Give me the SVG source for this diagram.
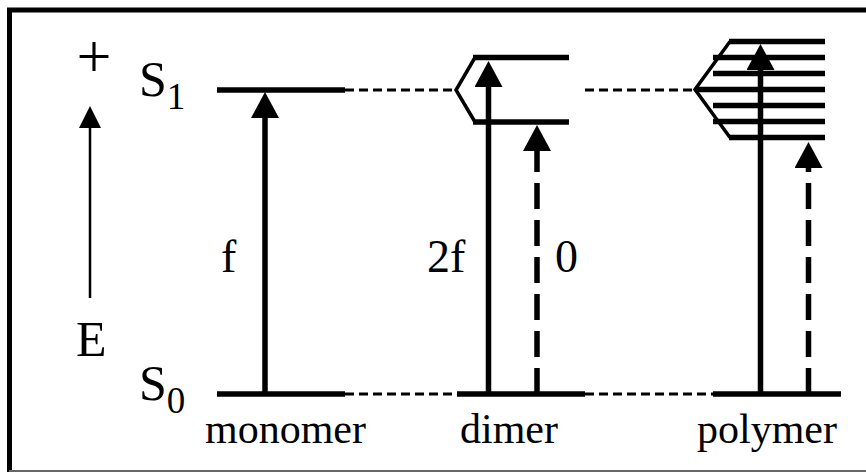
<svg xmlns="http://www.w3.org/2000/svg" width="866" height="472" viewBox="0 0 866 472" font-family="'Liberation Serif', 'Times New Roman', 'DejaVu Serif', serif">
<defs>
<style>
text{font-family:'Liberation Serif','Times New Roman','DejaVu Serif',serif;fill:#000}
.lvl{stroke:#000;stroke-width:5.5;fill:none}
.conn{stroke:#000;stroke-width:3;stroke-dasharray:9 5;fill:none}
.chev{stroke:#000;stroke-width:3.5;fill:none;stroke-linejoin:miter}
.arr{stroke:#000;stroke-width:5.5;fill:none;marker-end:url(#head)}
.arrd{stroke:#000;stroke-width:5.5;fill:none;stroke-dasharray:26 11;marker-end:url(#head)}
</style>
<marker id="head" viewBox="0 0 26 28" refX="0" refY="14" markerWidth="26" markerHeight="28" markerUnits="userSpaceOnUse" orient="auto">
<path d="M0,0 L26,14 L0,28 Z" fill="#000"/>
</marker>
<marker id="headE" viewBox="0 0 22 22" refX="0" refY="11" markerWidth="22" markerHeight="22" markerUnits="userSpaceOnUse" orient="auto">
<path d="M0,0 L22,11 L0,22 Z" fill="#000"/>
</marker>
</defs>
<rect width="866" height="472" fill="#fff"/>
<g id="frame">
<path d="M9.5,472 L9.5,10 L866,10" stroke="#000" stroke-width="5" fill="none"/>
<path d="M9,471 L866,471" stroke="#666" stroke-width="2" fill="none"/>
</g>
<g id="energy-axis">
<text x="94" y="77" font-size="62" text-anchor="middle">+</text>
<path d="M90,298 L90,128" stroke="#000" stroke-width="2.5" fill="none" marker-end="url(#headE)"/>
<text x="76" y="356" font-size="50">E</text>
</g>
<g id="state-labels">
<text x="139" y="96" font-size="50">S<tspan font-size="37" y="109">1</tspan></text>
<text x="139" y="400" font-size="50">S<tspan font-size="37" y="413">0</tspan></text>
</g>
<g id="monomer">
<path class="lvl" d="M217,90 L345,90"/>
<path class="lvl" d="M217,394 L345,394"/>
<path class="arr" d="M265,394 L265,118"/>
<text x="221" y="272" font-size="46">f</text>
<text x="205" y="443" font-size="42">monomer</text>
</g>
<g id="dimer">
<path class="chev" d="M475,57.5 L456,90 L475,122"/>
<path class="lvl" d="M473,57.5 L569,57.5"/>
<path class="lvl" d="M473,122 L569,122"/>
<path class="lvl" d="M457,394 L585,394"/>
<path class="arr" d="M488.5,394 L488.5,87"/>
<path class="arrd" d="M537,394 L537,151"/>
<text x="427" y="272" font-size="46">2f</text>
<text x="555" y="272" font-size="46">0</text>
<text x="460" y="443" font-size="42">dimer</text>
</g>
<g id="polymer">
<path class="chev" d="M730,41.5 L695,89.5 L730,137.5"/>
<path class="lvl" d="M729,41.5 L825,41.5"/>
<path class="lvl" d="M713,57.5 L825,57.5"/>
<path class="lvl" d="M713,73.5 L825,73.5"/>
<path class="lvl" d="M695,89.5 L825,89.5"/>
<path class="lvl" d="M713,105.5 L825,105.5"/>
<path class="lvl" d="M713,121.5 L825,121.5"/>
<path class="lvl" d="M729,137.5 L825,137.5"/>
<path class="lvl" d="M713,394 L841,394"/>
<path class="arr" d="M760.5,394 L760.5,70"/>
<path class="arrd" d="M808.5,394 L808.5,168"/>
<text x="697" y="443" font-size="42">polymer</text>
</g>
<g id="connectors">
<path class="conn" d="M345,90 L456,90"/>
<path class="conn" d="M585,90 L695,90"/>
<path class="conn" d="M345,394 L457,394"/>
<path class="conn" d="M585,394 L713,394"/>
</g>
</svg>
